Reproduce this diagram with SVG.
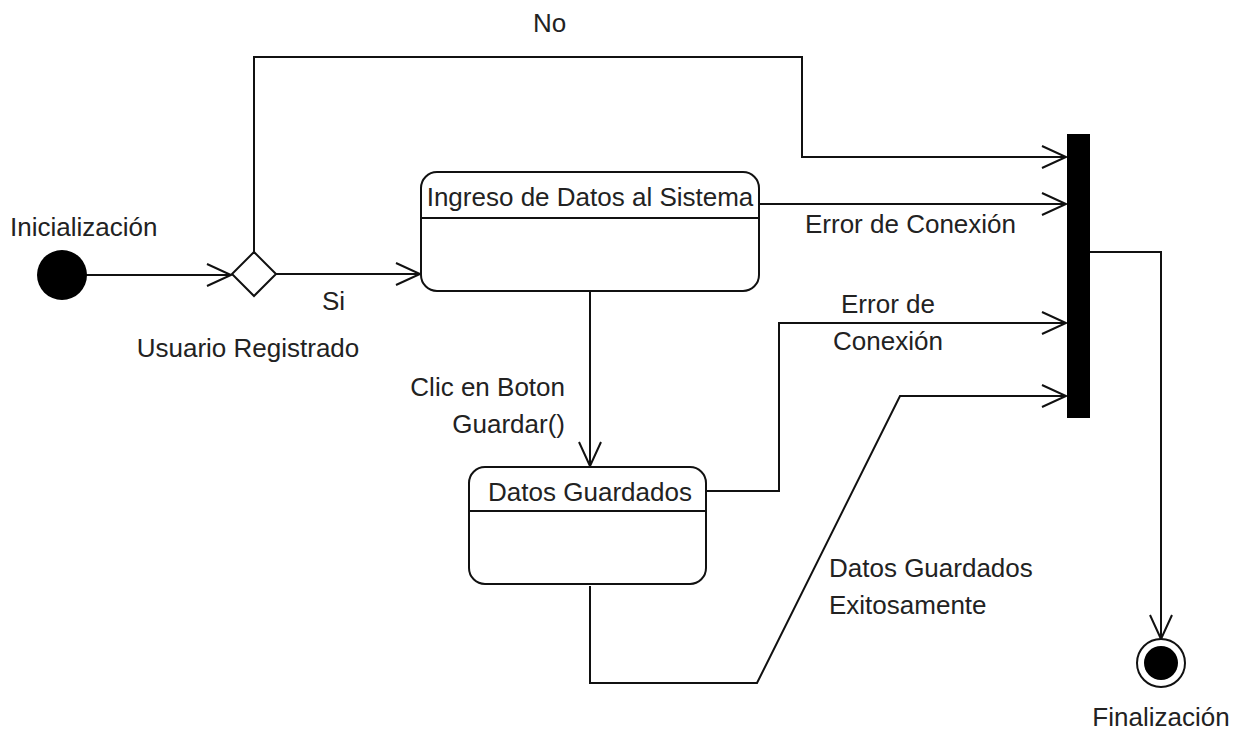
<svg xmlns="http://www.w3.org/2000/svg" width="1245" height="731" viewBox="0 0 1245 731">
<defs>
<style>
text{font-family:"Liberation Sans",Arial,sans-serif;font-size:26px;fill:#222}
.ln{fill:none;stroke:#111;stroke-width:2}
.st{fill:#fff;stroke:#111;stroke-width:2}
</style>
<marker id="ar" markerUnits="userSpaceOnUse" markerWidth="30" markerHeight="30" viewBox="-26 -13 30 26" refX="0" refY="0" orient="auto">
<path d="M-24,-11 L0,0 L-24,11" fill="none" stroke="#111" stroke-width="2"/>
</marker>
</defs>
<rect width="1245" height="731" fill="#fff"/>
<g id="connectors">
<path class="ln" d="M86,275 H231" marker-end="url(#ar)"/>
<path class="ln" d="M254,252 V57 H802 V157 H1066" marker-end="url(#ar)"/>
<path class="ln" d="M276,274 H420" marker-end="url(#ar)"/>
<path class="ln" d="M759,204 H1066" marker-end="url(#ar)"/>
<path class="ln" d="M590,291 V466" marker-end="url(#ar)"/>
<path class="ln" d="M706,491 H779 V323 H1066" marker-end="url(#ar)"/>
<path class="ln" d="M590,586 V683 H757 L900,396 H1066" marker-end="url(#ar)"/>
<path class="ln" d="M1090,252 H1161 V639" marker-end="url(#ar)"/>
<text x="533" y="32">No</text>
<text x="322" y="310">Si</text>
<text x="248" y="357" text-anchor="middle">Usuario Registrado</text>
<text x="805" y="233">Error de Conexión</text>
<text x="888" y="313" text-anchor="middle">Error de</text>
<text x="888" y="350" text-anchor="middle">Conexión</text>
<text x="565" y="396" text-anchor="end">Clic en Boton</text>
<text x="565" y="433" text-anchor="end">Guardar()</text>
<text x="829" y="577">Datos Guardados</text>
<text x="829" y="614">Exitosamente</text>
</g>
<g id="inicio">
<circle cx="62" cy="275" r="25" fill="#000"/>
<text x="10" y="236">Inicialización</text>
</g>
<g id="decision">
<path class="st" d="M254,252 L276,274 L254,296 L232,274 Z"/>
</g>
<g id="ingreso">
<rect class="st" x="421" y="172" width="338" height="119" rx="16"/>
<line class="ln" x1="421" y1="218" x2="759" y2="218"/>
<text x="590" y="206" text-anchor="middle">Ingreso de Datos al Sistema</text>
</g>
<g id="guardados">
<rect class="st" x="469" y="467" width="237" height="117" rx="16"/>
<line class="ln" x1="469" y1="511" x2="706" y2="511"/>
<text x="590" y="501" text-anchor="middle">Datos Guardados</text>
</g>
<g id="barra">
<rect x="1067" y="134" width="23" height="284" fill="#000"/>
</g>
<g id="fin">
<circle cx="1161" cy="663" r="24" fill="#fff" stroke="#111" stroke-width="2"/>
<circle cx="1161" cy="663" r="17" fill="#000"/>
<text x="1161" y="726" text-anchor="middle">Finalización</text>
</g>
</svg>
